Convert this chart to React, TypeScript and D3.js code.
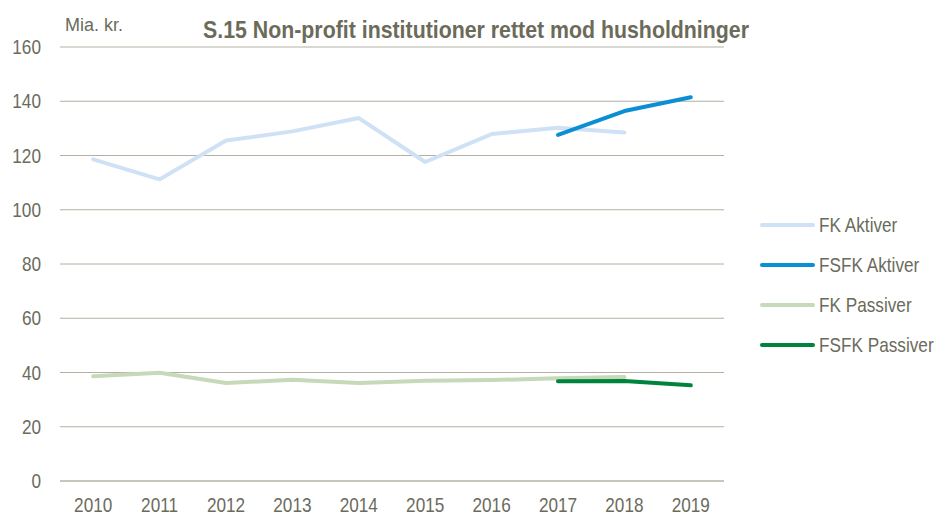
import React from "react";
import * as d3 from "d3";

const years = ["2010", "2011", "2012", "2013", "2014", "2015", "2016", "2017", "2018", "2019"];
const yTicks = [0, 20, 40, 60, 80, 100, 120, 140, 160];

const fkAktiver: (number | null)[] = [118.6, 111.2, 125.5, 128.9, 133.8, 117.6, 127.9, 130.2, 128.5, null];
const fsfkAktiver: (number | null)[] = [null, null, null, null, null, null, null, 127.6, 136.4, 141.5];
const fkPassiver: (number | null)[] = [38.6, 39.9, 36.1, 37.3, 36.1, 37.0, 37.2, 37.9, 38.3, null];
const fsfkPassiver: (number | null)[] = [null, null, null, null, null, null, null, 36.8, 36.9, 35.3];

const seriesNames = ["FK Aktiver", "FSFK Aktiver", "FK Passiver", "FSFK Passiver"];
const seriesColors = ["#cfe2f5", "#0a8fd4", "#c6d9b8", "#00843d"];
const seriesData = [fkAktiver, fsfkAktiver, fkPassiver, fsfkPassiver];

const FONT = "'Liberation Sans', Arial, sans-serif";
const TEXT = "#6b6b5c";
const SX = 0.86;

function NText(props: {
  x: number; y: number; size: number; anchor?: "start" | "middle" | "end";
  weight?: string; fill?: string; children: React.ReactNode;
}) {
  const { x, y, size, anchor = "start", weight = "normal", fill = TEXT, children } = props;
  return (
    <text
      transform={`translate(${x},${y}) scale(${SX},1)`}
      dy="0.35em"
      textAnchor={anchor}
      fontSize={size}
      fontWeight={weight}
      fill={fill}
    >
      {children}
    </text>
  );
}

export default function App() {
  const W = 936, H = 515;
  const left = 60, right = 724, top = 47, bottom = 481;
  const x = d3.scaleBand<string>().domain(years).range([left, right]);
  const cx = (yr: string) => (x(yr) as number) + x.bandwidth() / 2;
  const y = d3.scaleLinear().domain([0, 160]).range([bottom, top]);
  const line = d3
    .line<number | null>()
    .defined((d) => d !== null)
    .x((_, i) => cx(years[i]))
    .y((d) => y(d as number));

  return (
    <svg width={W} height={H} style={{ position: "absolute", left: 0, top: 0, background: "#fff" }} fontFamily={FONT}>
      {yTicks.map((t) => (
        <g key={t}>
          <line x1={left} x2={right} y1={y(t)} y2={y(t)} stroke={t === 0 ? "#8f8c7a" : "#b3b0a3"} strokeWidth={1} />
          <NText x={41} y={y(t)} size={20} anchor="end">{t}</NText>
        </g>
      ))}
      {years.map((yr) => (
        <NText key={yr} x={cx(yr)} y={505} size={20} anchor="middle">{yr}</NText>
      ))}
      <text x={65} y={31} fontSize={18} fill={TEXT} textLength={58} lengthAdjust="spacingAndGlyphs">
        Mia. kr.
      </text>
      <text
        x={203}
        y={38}
        fontSize={24}
        fontWeight="bold"
        fill="#6b6b5a"
        textLength={546}
        lengthAdjust="spacingAndGlyphs"
      >
        S.15 Non-profit institutioner rettet mod husholdninger
      </text>
      {seriesData.map((d, i) => (
        <path key={i} d={line(d) || ""} fill="none" stroke={seriesColors[i]} strokeWidth={4} strokeLinecap="round" strokeLinejoin="round" />
      ))}
      {seriesNames.map((n, i) => {
        const ly = 225 + i * 40;
        return (
          <g key={n}>
            <line x1={762} x2={813} y1={ly} y2={ly} stroke={seriesColors[i]} strokeWidth={4} strokeLinecap="round" />
            <NText x={819} y={ly} size={20}>{n}</NText>
          </g>
        );
      })}
    </svg>
  );
}
